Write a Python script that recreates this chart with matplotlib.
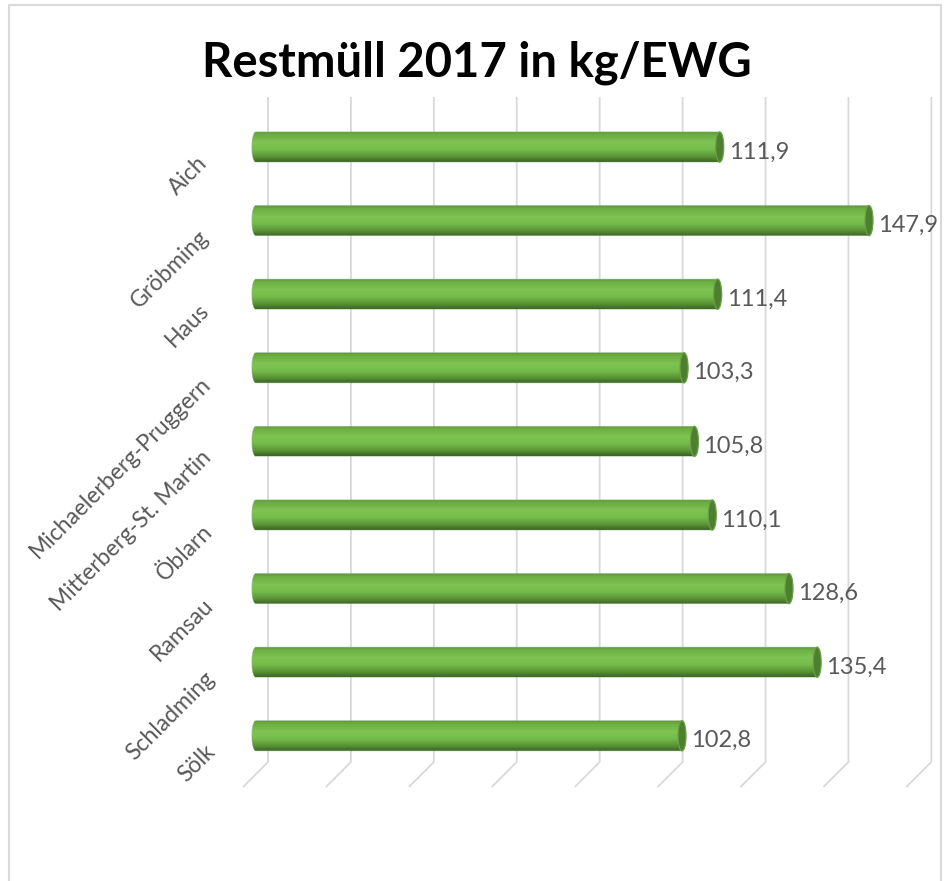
import numpy as np
import matplotlib
matplotlib.use("Agg")
import matplotlib.pyplot as plt
from matplotlib.path import Path
from matplotlib.patches import PathPatch, Ellipse, Rectangle
from matplotlib.colors import LinearSegmentedColormap
from matplotlib.transforms import ScaledTranslation
from matplotlib.lines import Line2D

categories = ["Aich", "Gröbming", "Haus", "Michaelerberg-Pruggern",
              "Mitterberg-St. Martin", "Öblarn", "Ramsau", "Schladming", "Sölk"]
values = [111.9, 147.9, 111.4, 103.3, 105.8, 110.1, 128.6, 135.4, 102.8]
value_labels = ["111,9", "147,9", "111,4", "103,3", "105,8", "110,1", "128,6", "135,4", "102,8"]
grid_ticks = [0, 20, 40, 60, 80, 100, 120, 140, 160]
title = "Restmüll 2017 in kg/EWG"

W, H = 950, 881
DPI = 100
fig = plt.figure(figsize=(W / DPI, H / DPI), dpi=DPI)
fig.patch.set_facecolor("white")

# pixel layout
px_per_unit = 4.146
x0_px = 255.8
y0_px = 147.0
row_px = 73.6
ax_l, ax_r, ax_t, ax_b = 200, 945, 90, 800

ax = fig.add_axes([ax_l / W, 1 - ax_b / H, (ax_r - ax_l) / W, (ax_b - ax_t) / H])
ax.set_xlim((ax_l - x0_px) / px_per_unit, (ax_r - x0_px) / px_per_unit)
ax.set_ylim((ax_b - y0_px) / row_px, (ax_t - y0_px) / row_px)
ax.axis("off")

fam = ["Lato", "DejaVu Sans"]
gray = "#595959"
grid_c = "#d9d9d9"

# back-wall gridlines (3D perspective): offset to the right, slanted foot
back_off = ScaledTranslation(12.2 / DPI, 0, fig.dpi_scale_trans)
y_top = (97 - y0_px) / row_px
y_bot = (762 - y0_px) / row_px
y_foot = (787 - y0_px) / row_px
dx_foot = -25 / px_per_unit
for g in grid_ticks:
    ln = Line2D([g, g, g + dx_foot], [y_top, y_bot, y_foot], color=grid_c, lw=1.3,
                transform=ax.transData + back_off, zorder=1, solid_capstyle="butt")
    ax.add_line(ln)

# cylinder gradient
cmap = LinearSegmentedColormap.from_list("cyl", [
    (0.0, "#5b9636"), (0.12, "#6dae42"), (0.38, "#7ec453"), (0.6, "#76ba4b"),
    (0.82, "#5a9536"), (1.0, "#3a6423")])
grad = np.linspace(0, 1, 256).reshape(-1, 1)

bar_h = 0.41
ew = 4.0 / px_per_unit  # half width of elliptical caps in data units
bars = ax.barh(range(len(values)), values, height=bar_h, color="none", edgecolor="none", zorder=2)

for i, (rect, v) in enumerate(zip(bars, values)):
    yc = rect.get_y() + rect.get_height() / 2
    hh = rect.get_height() / 2
    x_start = rect.get_x()
    x_end = rect.get_x() + rect.get_width()
    t2 = np.linspace(-np.pi / 2, -3 * np.pi / 2, 40)
    cap = np.column_stack([x_start + ew * np.cos(t2), yc + hh * np.sin(t2)])
    pts = list(map(tuple, cap)) + [(x_end, yc + hh), (x_end, yc - hh), tuple(cap[0])]
    path = Path(pts, closed=True)
    clip = PathPatch(path, transform=ax.transData, facecolor="none", edgecolor="none")
    ax.add_patch(clip)
    im = ax.imshow(grad, cmap=cmap, aspect="auto", interpolation="bilinear",
                   extent=(x_start - ew, x_end, yc + hh, yc - hh), origin="upper", zorder=3)
    im.set_clip_path(clip)
    outline = PathPatch(path, facecolor="none", edgecolor="#8fa882", lw=0.5, zorder=4, alpha=0.6)
    ax.add_patch(outline)
    face = Ellipse((x_end, yc), width=2 * ew, height=2 * hh, facecolor="#4e7e2f",
                   edgecolor="#6a9f45", lw=0.9, zorder=5)
    ax.add_patch(face)
    ax.annotate(value_labels[i], xy=(x_end, yc), xytext=(9, -5), textcoords="offset pixels",
                ha="left", va="center", fontsize=17, color=gray, family=fam, zorder=6)

# category labels, rotated 45°
lab_off = ScaledTranslation(0, -13 / DPI, fig.dpi_scale_trans)
for i, c in enumerate(categories):
    xl = (204 + i * 1.0 - x0_px) / px_per_unit
    ax.text(xl, i, c, rotation=45, rotation_mode="anchor", ha="right", va="center",
            fontsize=16.5, color=gray, family=fam, transform=ax.transData + lab_off)

# title
fig.text(476.5 / W, 1 - 63 / H, title, ha="center", va="center", fontsize=34,
         fontweight="bold", family=fam, color="black")

# chart border
fig.add_artist(Rectangle((8.5 / W, -0.02), (941 - 8.5) / W, 1.02 - 5 / H,
                         transform=fig.transFigure, facecolor="none",
                         edgecolor="#d9d9d9", lw=1.5))

fig.savefig("out.png", dpi=DPI)
